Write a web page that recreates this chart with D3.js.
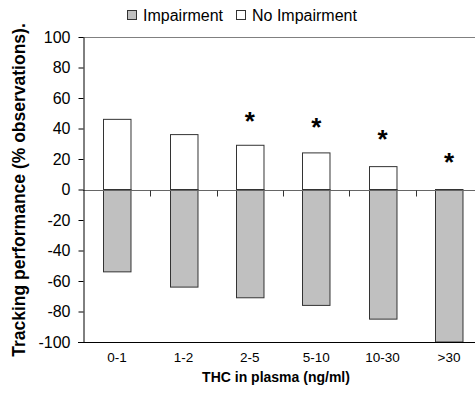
<!DOCTYPE html>
<html>
<head>
<meta charset="utf-8">
<script src="https://cdn.jsdelivr.net/npm/d3@7"></script>
<style>
  body { margin: 0; background: #fff; }
  text { font-family: "Liberation Sans", Arial, sans-serif; }
</style>
</head>
<body>
<div id="chart"></div>
<script>
// data
var categories = ["0-1", "1-2", "2-5", "5-10", "10-30", ">30"]
var impairment = [-54, -64, -71, -76, -85, -100]
var noImpairment = [46, 36, 29, 24, 15, 0]
var stars = [null, null, 49, 45, 37, 22]   // value where the asterisk sits
var yTicks = [-100, -80, -60, -40, -20, 0, 20, 40, 60, 80, 100]

var width = 475, height = 400

var svg = d3.select("#chart").append("svg")
    .attr("width", width)
    .attr("height", height)

var x = d3.scaleBand()
    .domain(categories)
    .range([83.8, 482.2])
    .paddingInner(0.586)
    .paddingOuter(0.293)

var y = d3.scaleLinear()
    .domain([-100, 100])
    .range([342, 37])

// top line at 100
svg.append("line")
    .attr("x1", 83).attr("x2", width)
    .attr("y1", y(100) + 0.5).attr("y2", y(100) + 0.5)
    .attr("stroke", "#808080")

// bars
svg.selectAll(".imp")
    .data(categories)
  .enter().append("rect")
    .attr("class", "imp")
    .attr("x", function(d) { return Math.round(x(d)) + 0.5 })
    .attr("width", x.bandwidth())
    .attr("y", y(0))
    .attr("height", function(d, i) { return y(impairment[i]) - y(0) })
    .attr("fill", "#c0c0c0")
    .attr("stroke", "#333")

svg.selectAll(".noimp")
    .data(categories.filter(function(d, i) { return noImpairment[i] > 0 }))
  .enter().append("rect")
    .attr("class", "noimp")
    .attr("x", function(d) { return Math.round(x(d)) + 0.5 })
    .attr("width", x.bandwidth())
    .attr("y", function(d) { return y(noImpairment[categories.indexOf(d)]) })
    .attr("height", function(d) { return y(0) - y(noImpairment[categories.indexOf(d)]) })
    .attr("fill", "#fff")
    .attr("stroke", "#333")

// zero line with category separators
var zero = svg.append("g").attr("transform", "translate(0," + (Math.round(y(0)) + 0.5) + ")")
zero.append("line")
    .attr("x1", 83).attr("x2", width)
    .attr("stroke", "#666")
zero.selectAll(".sep")
    .data(categories.slice(1))
  .enter().append("line")
    .attr("class", "sep")
    .attr("x1", function(d) { return Math.round(x(d) - x.step() * x.paddingInner() / 2) + 0.5 })
    .attr("x2", function(d) { return Math.round(x(d) - x.step() * x.paddingInner() / 2) + 0.5 })
    .attr("y1", 0).attr("y2", 6)
    .attr("stroke", "#333")

// y axis
var yAxis = svg.append("g")
    .attr("transform", "translate(83.5,0)")
    .call(d3.axisLeft(y).tickValues(yTicks).tickFormat(function(d) { return String(d) })
        .tickSize(5).tickPadding(8).tickSizeOuter(0))
yAxis.select(".domain").attr("stroke", "#000")
yAxis.selectAll(".tick line").attr("stroke", "#000")
yAxis.selectAll("text")
    .attr("font-size", 16)
    .attr("fill", "#000")
    .style("font-family", "'Liberation Sans', Arial, sans-serif")

// bottom line at -100
svg.append("line")
    .attr("x1", 78).attr("x2", width)
    .attr("y1", Math.round(y(-100)) + 0.5).attr("y2", Math.round(y(-100)) + 0.5)
    .attr("stroke", "#000")

// category labels
svg.selectAll(".cat")
    .data(categories)
  .enter().append("text")
    .attr("class", "cat")
    .attr("x", function(d) { return x(d) + x.bandwidth() / 2 })
    .attr("y", 362)
    .attr("text-anchor", "middle")
    .attr("font-size", 13.5)
    .text(function(d) { return d })

// asterisks
svg.selectAll(".star")
    .data(categories.filter(function(d, i) { return stars[i] != null }))
  .enter().append("text")
    .attr("class", "star")
    .attr("x", function(d) { return x(d) + x.bandwidth() / 2 })
    .attr("y", function(d) { return y(stars[categories.indexOf(d)]) + 15 })
    .attr("text-anchor", "middle")
    .attr("font-size", 26)
    .attr("font-weight", "bold")
    .text("*")

// axis titles
svg.append("text")
    .attr("x", 276)
    .attr("y", 382)
    .attr("text-anchor", "middle")
    .attr("font-size", 14)
    .attr("font-weight", "bold")
    .text("THC in plasma (ng/ml)")

svg.append("text")
    .attr("transform", "translate(25,190) rotate(-90)")
    .attr("text-anchor", "middle")
    .attr("font-size", 17.5)
    .attr("font-weight", "bold")
    .text("Tracking performance (% observations).")

// legend
var legend = [
  { label: "Impairment", fill: "#c0c0c0", x: 127 },
  { label: "No Impairment", fill: "#fff", x: 236 }
]
var lg = svg.selectAll(".legend")
    .data(legend)
  .enter().append("g")
    .attr("class", "legend")
    .attr("transform", function(d) { return "translate(" + d.x + ",0)" })
lg.append("rect")
    .attr("x", 0.5).attr("y", 10.5)
    .attr("width", 9).attr("height", 9)
    .attr("fill", function(d) { return d.fill })
    .attr("stroke", "#333")
lg.append("text")
    .attr("x", 16)
    .attr("y", 21)
    .attr("font-size", 16)
    .text(function(d) { return d.label })
</script>
</body>
</html>
